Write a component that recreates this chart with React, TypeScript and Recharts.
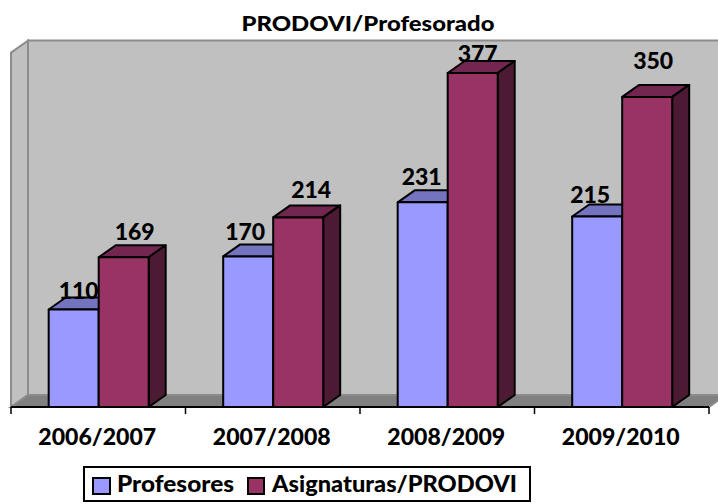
import { BarChart, Bar, XAxis, YAxis, LabelList, Legend, ReferenceArea } from "recharts";

const years = ["2006/2007", "2007/2008", "2008/2009", "2009/2010"];
const profesores = [110, 170, 231, 215];
const asignaturas = [169, 214, 377, 350];

// the original labels were dragged by hand, so each one has its own nudge
const profesoresNudge = [[5, 19], [-3, 24], [-1, 25], [-7, 22]];
const asignaturasNudge = [[11, 25], [13, 27], [5, 19], [6, 36]];

const data = years.map((year, i) => ({
	year,
	profesores: profesores[i],
	asignaturas: asignaturas[i],
}));

const DEPTH_X = 17;
const DEPTH_Y = 12;
const FONT = "Lato, sans-serif";

const pts = (list: number[][]) => list.map((p) => p.join(",")).join(" ");

// Calibri bold stretched sideways in the original, so text is fitted to its measured width
const stretched = (width: number) => ({
	textLength: width,
	lengthAdjust: "spacingAndGlyphs" as const,
	fontFamily: FONT,
	fontWeight: 900,
	fill: "#000",
});

const Walls = ({ x, y, width, height }: any) => {
	const right = x + width;
	const bottom = y + height;
	const edge = { stroke: "#8c8c8c", strokeWidth: 2 };
	return (
		<g>
			<polygon
				points={pts([[x + DEPTH_X, y - DEPTH_Y], [right + DEPTH_X, y - DEPTH_Y], [right + DEPTH_X, bottom - DEPTH_Y], [x + DEPTH_X, bottom - DEPTH_Y]])}
				fill="#c0c0c0"
				{...edge}
			/>
			<polygon
				points={pts([[x, y], [x + DEPTH_X, y - DEPTH_Y], [x + DEPTH_X, bottom - DEPTH_Y], [x, bottom]])}
				fill="#c0c0c0"
				{...edge}
			/>
			<polygon
				points={pts([[x, bottom], [x + DEPTH_X, bottom - DEPTH_Y], [right + DEPTH_X, bottom - DEPTH_Y], [right, bottom]])}
				fill="#808080"
				{...edge}
			/>
		</g>
	);
};

const Bar3D = ({ x, y, width, height, fill, topFill, sideFill }: any) => {
	const right = x + width;
	const bottom = y + height;
	const line = { stroke: "#000", strokeWidth: 2, strokeLinejoin: "round" as const };
	return (
		<g>
			<polygon
				points={pts([[x, y], [x + DEPTH_X, y - DEPTH_Y], [right + DEPTH_X, y - DEPTH_Y], [right, y]])}
				fill={topFill}
				{...line}
			/>
			<polygon
				points={pts([[right, y], [right + DEPTH_X, y - DEPTH_Y], [right + DEPTH_X, bottom - DEPTH_Y], [right, bottom]])}
				fill={sideFill}
				{...line}
			/>
			<rect x={x} y={y} width={width} height={height} fill={fill} {...line} />
		</g>
	);
};

const YearTick = ({ x, y, payload, index }: any) => {
	const band = 698 / years.length;
	const axisY = y - 8;
	return (
		<g>
			<line x1={x - band / 2} x2={x - band / 2} y1={axisY} y2={axisY + 7} stroke="#000" strokeWidth={1.5} />
			{index === years.length - 1 && (
				<line x1={x + band / 2} x2={x + band / 2} y1={axisY} y2={axisY + 7} stroke="#000" strokeWidth={1.5} />
			)}
			<text x={x - 1} y={axisY + 38} textAnchor="middle" fontSize={22} {...stretched(118)}>
				{payload.value}
			</text>
		</g>
	);
};

const nudgedLabel = (nudges: number[][]) => ({ x, y, width, value, index }: any) => {
	const [dx, dy] = nudges[index];
	return (
		<text x={x + width / 2 + dx} y={y - dy + 8} textAnchor="middle" fontSize={22} {...stretched(40)}>
			{value}
		</text>
	);
};

const LegendBox = () => (
	<svg width={448} height={36} style={{ display: "block" }}>
		<rect x={1} y={1} width={446} height={34} fill="#fff" stroke="#000" strokeWidth={2} />
		<rect x={10} y={12} width={17} height={16} fill="#9999ff" stroke="#000" strokeWidth={2} />
		<text x={34} y={26} fontSize={22} {...stretched(117)}>Profesores</text>
		<rect x={165} y={12} width={16} height={16} fill="#993366" stroke="#000" strokeWidth={2} />
		<text x={189} y={26} fontSize={22} {...stretched(245)}>Asignaturas/PRODOVI</text>
	</svg>
);

export default function App() {
	return (
		<div style={{ position: "absolute", left: 0, top: 0, width: 718, height: 504, background: "#fff" }}>
			<BarChart
				width={718}
				height={504}
				data={data}
				margin={{ top: 52.6, right: 9, bottom: 57, left: 11 }}
				barCategoryGap="21.6%"
				barGap={0}
			>
				<YAxis hide domain={[0, 400]} />
				<XAxis
					dataKey="year"
					height={40}
					axisLine={{ stroke: "#000", strokeWidth: 2 }}
					tickLine={false}
					tick={<YearTick />}
					interval={0}
				/>
				<ReferenceArea y1={0} y2={400} shape={<Walls />} ifOverflow="visible" />
				<Bar
					dataKey="profesores"
					name="Profesores"
					fill="#9999ff"
					isAnimationActive={false}
					shape={<Bar3D topFill="#7373bf" sideFill="#5c5c99" />}
				>
					<LabelList dataKey="profesores" content={nudgedLabel(profesoresNudge)} />
				</Bar>
				<Bar
					dataKey="asignaturas"
					name="Asignaturas/PRODOVI"
					fill="#993366"
					isAnimationActive={false}
					shape={<Bar3D topFill="#732650" sideFill="#4d1a33" />}
				>
					<LabelList dataKey="asignaturas" content={nudgedLabel(asignaturasNudge)} />
				</Bar>
				<Legend
					layout="horizontal"
					verticalAlign="middle"
					align="center"
					content={<LegendBox />}
					wrapperStyle={{ position: "absolute", left: 83, top: 466, width: 448, height: 36 }}
				/>
				<text x={368} y={31} textAnchor="middle" fontSize={21} {...stretched(253)}>
					PRODOVI/Profesorado
				</text>
			</BarChart>
		</div>
	);
}
